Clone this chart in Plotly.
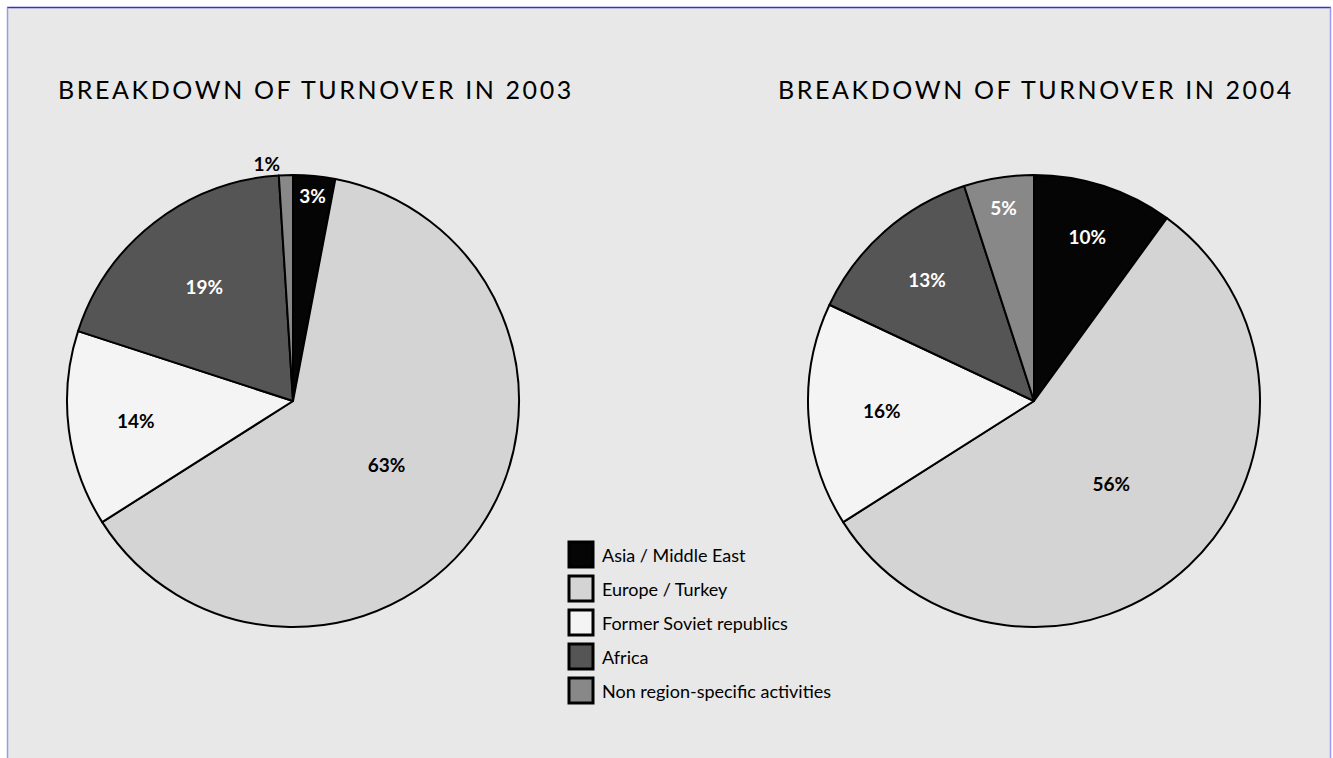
import plotly.graph_objects as go

# ---- data ----
regions = ["Asia / Middle East", "Europe / Turkey", "Former Soviet republics",
           "Africa", "Non region-specific activities"]
share_2003 = [3, 63, 14, 19, 1]
share_2004 = [10, 56, 16, 13, 5]
titles = ["BREAKDOWN OF TURNOVER IN 2003", "BREAKDOWN OF TURNOVER IN 2004"]

# ---- styles ----
colors = ["#050505", "#d4d4d4", "#f4f4f4", "#555555", "#888888"]
inside_text_colors = ["white", "black", "black", "white", "white"]
FONT = "Lato"
W, H = 1333, 758


def px(x):
    return x / W


def py(y):
    return 1 - y / H


fig = go.Figure()


def add_pie(values, x0, x1, y0, y1, positions):
    fig.add_trace(go.Pie(
        labels=regions, values=values, sort=False, direction="clockwise",
        rotation=0,
        marker=dict(colors=colors, line=dict(color="black", width=2)),
        texttemplate="%{value}%",
        textposition=positions,
        insidetextorientation="horizontal",
        insidetextfont=dict(family=FONT, size=19, color=inside_text_colors, weight="bold"),
        outsidetextfont=dict(family=FONT, size=19, color="black", weight="bold"),
        domain=dict(x=[px(x0), px(x1)], y=[py(y1), py(y0)]),
        hoverinfo="label+percent",
        showlegend=False,
    ))


add_pie(share_2003, 67, 519, 175, 627, ["inside", "inside", "inside", "inside", "outside"])
add_pie(share_2004, 808, 1260, 175, 627, ["inside"] * 5)

shapes = [
    dict(type="rect", xref="paper", yref="paper", x0=px(8), x1=px(1330), y0=0, y1=py(8),
         fillcolor="#e8e8e8", line=dict(width=0), layer="below"),
    dict(type="line", xref="paper", yref="paper", x0=px(7), x1=px(1331), y0=py(7.5), y1=py(7.5),
         line=dict(color="#3333cc", width=1.5), layer="below"),
    dict(type="line", xref="paper", yref="paper", x0=px(7.5), x1=px(7.5), y0=0, y1=py(7.5),
         line=dict(color="#9a9aee", width=1.5), layer="below"),
    dict(type="line", xref="paper", yref="paper", x0=px(1330.5), x1=px(1330.5), y0=0, y1=py(7.5),
         line=dict(color="#9a9aee", width=1.5), layer="below"),
]

annotations = []
for t, cx in zip(titles, [316, 1036]):
    annotations.append(dict(
        text='<span style="letter-spacing:2.6px">' + t + '</span>',
        x=px(cx), y=py(89), xref="paper", yref="paper", showarrow=False,
        xanchor="center", yanchor="middle",
        font=dict(family=FONT, size=25, color="black")))

# legend (custom, larger swatches)
for i, (name, col) in enumerate(zip(regions, colors)):
    top = 542 + 34 * i
    shapes.append(dict(type="rect", xref="paper", yref="paper",
                       x0=px(569), x1=px(593), y0=py(top + 25), y1=py(top),
                       fillcolor=col, line=dict(color="black", width=3)))
    annotations.append(dict(text=name, x=px(600), y=py(top + 13), xref="paper", yref="paper",
                            showarrow=False, xanchor="left", yanchor="middle",
                            font=dict(family=FONT, size=18, color="black")))

fig.update_layout(
    width=W, height=H,
    margin=dict(l=0, r=0, t=0, b=0),
    paper_bgcolor="white",
    shapes=shapes,
    annotations=annotations,
    uniformtext=dict(minsize=19, mode="show"),
    showlegend=False,
)

fig.write_html("out.html")
